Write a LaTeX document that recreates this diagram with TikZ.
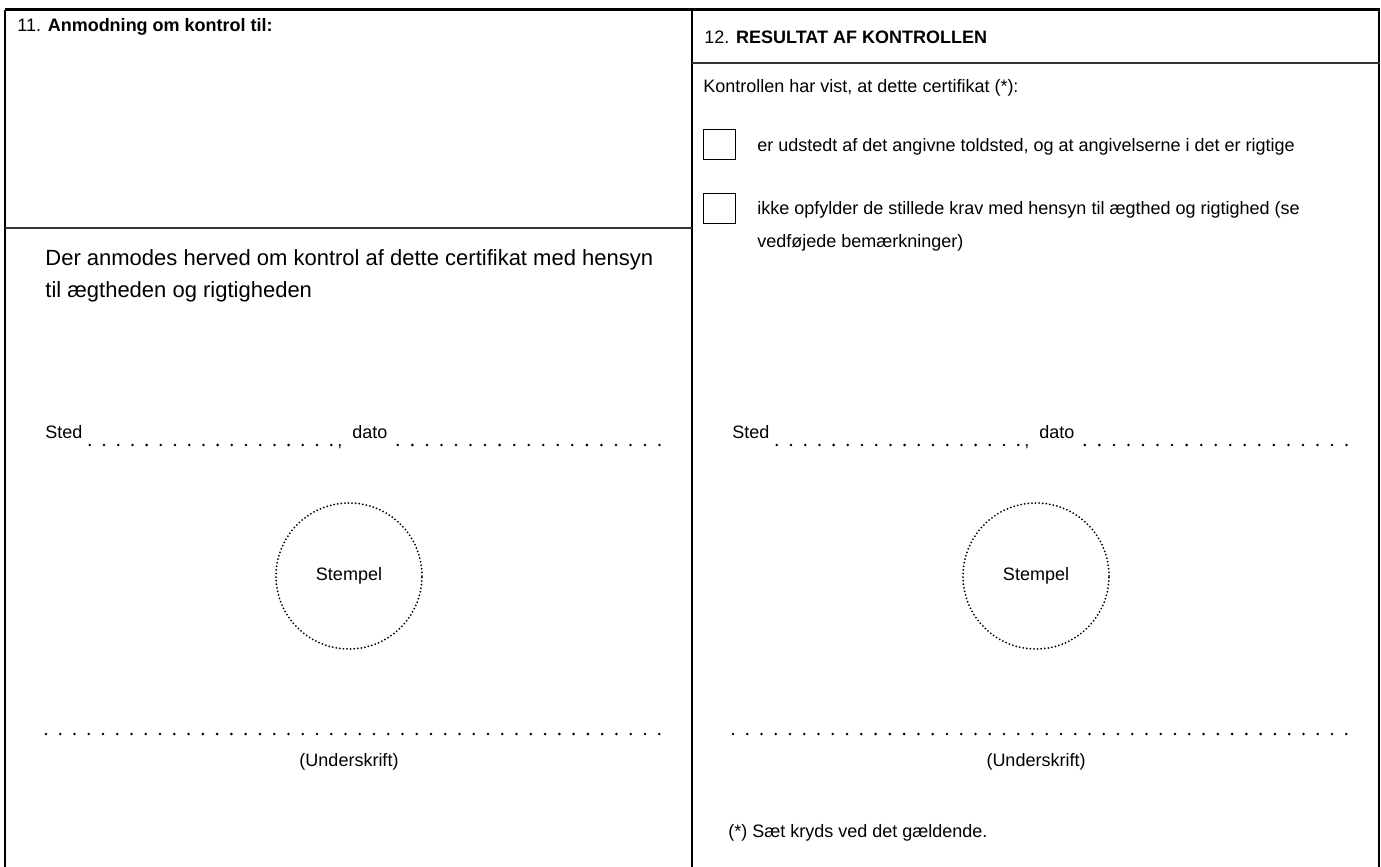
\documentclass[tikz,border=0pt]{standalone}
\usepackage{fontspec}
\setmainfont{Liberation Sans}
\usetikzlibrary{positioning,calc}

\begin{document}
\begin{tikzpicture}[x=0.5pt,y=-0.5pt,
  txt/.style={inner sep=0pt,anchor=base west,font=\fontsize{9}{10.8}\selectfont},
  big/.style={txt,font=\fontsize{11}{13}\selectfont},
  rule/.style={line width=0.6pt,black!80},
  chk/.style={draw,line width=0.6pt,minimum width=16pt,minimum height=15pt,inner sep=0pt,anchor=north west},
  dotline/.style={line width=1.4pt,line cap=round,dash pattern=on 0pt off 7.1pt},
  stamp/.style={circle,draw,line width=1pt,line cap=round,dash pattern=on 0pt off 1.8pt,
    minimum size=73pt,inner sep=0pt,font=\fontsize{9}{10.8}\selectfont}]
\useasboundingbox (0,0) rectangle (1381,867);
% frame
\coordinate (tl) at (5,9.5);
\coordinate (tr) at (1380,9.5);
\coordinate (mid) at (692,9.5);
\draw[line width=1.25pt] (tl) -- (tr);
\draw[line width=1pt] (tl) -- (tl |- 0,867);
\draw[line width=0.75pt] ([xshift=-0.5]tr) -- ([xshift=-0.5]tr |- 0,867);
\draw[line width=1pt] (mid) -- (mid |- 0,867);
\draw[rule] (tl |- 0,228) -- (mid |- 0,228);
\draw[rule] (mid |- 0,63) -- (tr |- 0,63);
% box 11
\node[txt] (title11) at (17,32) {11. \textbf{Anmodning om kontrol til:}};
\node[big] (ask1) at (45,265) {Der anmodes herved om kontrol af dette certifikat med hensyn};
\node[big] (ask2) at (45,297) {til ægtheden og rigtigheden};
% box 12
\node[txt] (title12) at (704,43) {12. \textbf{RESULTAT AF KONTROLLEN}};
\node[txt] (shown) at (703,92) {Kontrollen har vist, at dette certifikat (*):};
\node[chk] (box1) at (703,129) {};
\node[chk] (box2) at (703,193) {};
\node[txt] (opt1) at (757,151) {er udstedt af det angivne toldsted, og at angivelserne i det er rigtige};
\node[txt] (opt2) at (757,214) {ikke opfylder de stillede krav med hensyn til ægthed og rigtighed (se};
\node[txt] (opt2b) at (757,247) {vedføjede bemærkninger)};
\node[txt] (note) at (728,837) {(*) Sæt kryds ved det gældende.};
% place, date, stamp and signature in both columns
\foreach \c/\dx in {L/0,R/687}{
  \node[txt] (sted\c) at (45+\dx,438) {Sted};
  \node[txt] (comma\c) at (337+\dx,446) {,};
  \node[txt] (dato\c) at (352+\dx,438) {dato};
  \draw[dotline] ($(sted\c.base east)+(7,7)$) -- ++(241.5,0);
  \draw[dotline,dash pattern=on 0pt off 7.27pt] ($(dato\c.base east)+(10,7)$) -- ++(262,0);
  \node[stamp] (stamp\c) at (349+\dx,576) {Stempel};
  \coordinate (signA\c) at (46+\dx,734);
  \coordinate (signB\c) at (659.5+\dx,734);
  \draw[dotline,dash pattern=on 0pt off 7.13pt] (signA\c) -- (signB\c);
  \node[txt,anchor=base] (sign\c) at (349+\dx,766) {(Underskrift)};
}
\end{tikzpicture}
\end{document}
